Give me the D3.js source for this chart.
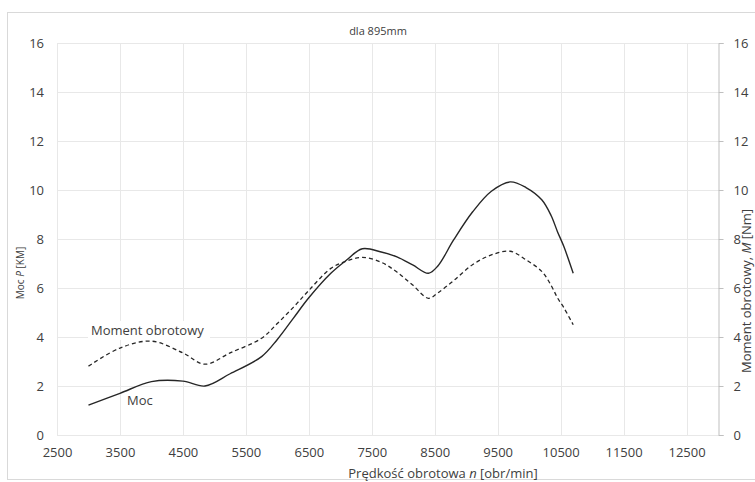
<!DOCTYPE html>
<html>
<head>
<meta charset="utf-8">
<script src="https://cdn.jsdelivr.net/npm/d3@7/dist/d3.min.js"></script>
<style>
  body { margin: 0; background: #fff; }
  svg text { font-family: "Open Sans", sans-serif; fill: #404040; }
</style>
</head>
<body>
<div id="chart"></div>
<script>
var width = 755, height = 482;
var margin = {top: 43, right: 37, bottom: 47, left: 57};

// data
var rpm = [3000, 3500, 4000, 4500, 4850, 5250, 5750, 6000, 6250, 6500, 6850, 7100, 7350,
  7650, 7900, 8150, 8400, 8550, 8800, 9100, 9400, 9700, 9950, 10200, 10350, 10450, 10550, 10700];
var moc = [1.22, 1.7, 2.18, 2.2, 2.0, 2.5, 3.2, 3.9, 4.75, 5.6, 6.6, 7.14, 7.6,
  7.47, 7.27, 6.94, 6.6, 6.9, 7.96, 9.1, 9.95, 10.33, 10.1, 9.6, 8.95, 8.3, 7.7, 6.6];
var moment = [2.81, 3.55, 3.83, 3.35, 2.89, 3.35, 3.95, 4.55, 5.2, 5.9, 6.8, 7.1, 7.25,
  7.05, 6.65, 6.12, 5.58, 5.8, 6.3, 6.95, 7.35, 7.5, 7.15, 6.68, 6.1, 5.6, 5.2, 4.5];
var xTicks = [2500, 3500, 4500, 5500, 6500, 7500, 8500, 9500, 10500, 11500, 12500];
var yTicks = [0, 2, 4, 6, 8, 10, 12, 14, 16];

var svg = d3.select("#chart")
  .append("svg")
  .attr("width", width)
  .attr("height", height);

// chart frame
svg.append("rect")
  .attr("x", 7.5).attr("y", 12.5)
  .attr("width", 770).attr("height", 467)
  .attr("fill", "none")
  .attr("stroke", "#d9d9d9");

var xScale = d3.scaleLinear()
  .domain([2500, 13000])
  .range([margin.left, width - margin.right]);

var yLeft = d3.scaleLinear()
  .domain([0, 16])
  .range([height - margin.bottom, margin.top]);

var yRight = d3.scaleLinear()
  .domain([0, 16])
  .range([height - margin.bottom, margin.top]);

// grid
svg.append("g")
  .attr("class", "grid")
  .selectAll("line.v")
  .data(xTicks)
  .enter()
  .append("line")
  .attr("x1", d => Math.round(xScale(d)) + 0.5)
  .attr("x2", d => Math.round(xScale(d)) + 0.5)
  .attr("y1", margin.top)
  .attr("y2", height - margin.bottom)
  .attr("stroke", "#e8e8e8");

svg.append("g")
  .attr("class", "grid")
  .selectAll("line.h")
  .data(yTicks)
  .enter()
  .append("line")
  .attr("x1", margin.left)
  .attr("x2", width - margin.right)
  .attr("y1", d => Math.round(yLeft(d)) + 0.5)
  .attr("y2", d => Math.round(yLeft(d)) + 0.5)
  .attr("stroke", "#e8e8e8");

// left axis (labels only)
var yAxisL = d3.axisLeft(yLeft).tickValues(yTicks).tickSize(0).tickPadding(13);
svg.append("g")
  .attr("transform", `translate(${margin.left},0)`)
  .call(yAxisL)
  .call(g => g.select(".domain").remove())
  .selectAll("text")
  .attr("font-size", "13px")
  .style("font-family", "Open Sans")
  .attr("fill", "#404040");

// right axis
var yAxisR = d3.axisRight(yRight).tickValues(yTicks).tickSize(5).tickPadding(10);
var gR = svg.append("g")
  .attr("transform", `translate(${Math.round(width - margin.right) + 0.5},0)`)
  .call(yAxisR);
gR.select(".domain").attr("stroke", "#bfbfbf");
gR.selectAll(".tick line").attr("stroke", "#bfbfbf");
gR.selectAll("text")
  .attr("font-size", "13px")
  .style("font-family", "Open Sans")
  .attr("fill", "#404040");

// x axis (labels only)
var xAxis = d3.axisBottom(xScale).tickValues(xTicks).tickSize(0).tickPadding(13).tickFormat(d3.format("d"));
svg.append("g")
  .attr("transform", `translate(0,${height - margin.bottom})`)
  .call(xAxis)
  .call(g => g.select(".domain").remove())
  .selectAll("text")
  .attr("font-size", "13px")
  .style("font-family", "Open Sans")
  .attr("fill", "#404040");

// lines
var points = rpm.map((r, i) => ({rpm: r, moc: moc[i], moment: moment[i]}));

var lineMoc = d3.line()
  .x(d => xScale(d.rpm))
  .y(d => yLeft(d.moc))
  .curve(d3.curveCatmullRom.alpha(0.5));

var lineMoment = d3.line()
  .x(d => xScale(d.rpm))
  .y(d => yRight(d.moment))
  .curve(d3.curveCatmullRom.alpha(0.5));

svg.append("path")
  .datum(points)
  .attr("d", lineMoment)
  .attr("fill", "none")
  .attr("stroke", "#262626")
  .attr("stroke-width", 1.3)
  .attr("stroke-dasharray", "4,3");

svg.append("path")
  .datum(points)
  .attr("d", lineMoc)
  .attr("fill", "none")
  .attr("stroke", "#262626")
  .attr("stroke-width", 1.4);

// series labels
svg.append("rect")
  .attr("x", 88).attr("y", 321)
  .attr("width", 122).attr("height", 19)
  .attr("fill", "#fff");
svg.append("text")
  .attr("x", 91).attr("y", 335)
  .attr("font-size", "13px")
  .text("Moment obrotowy");
svg.append("text")
  .attr("x", 127).attr("y", 405)
  .attr("font-size", "13px")
  .text("Moc");

// titles
svg.append("text")
  .attr("x", 378).attr("y", 35)
  .attr("text-anchor", "middle")
  .attr("font-size", "11px")
  .text("dla 895mm");

var xt = svg.append("text")
  .attr("x", 443).attr("y", 478)
  .attr("text-anchor", "middle")
  .attr("font-size", "13px");
xt.append("tspan").text("Prędkość obrotowa ");
xt.append("tspan").attr("font-style", "italic").text("n");
xt.append("tspan").text(" [obr/min]");

var yl = svg.append("text")
  .attr("transform", "translate(24,273) rotate(-90)")
  .attr("text-anchor", "middle")
  .attr("font-size", "10px");
yl.append("tspan").text("Moc ");
yl.append("tspan").attr("font-style", "italic").text("P");
yl.append("tspan").text(" [KM]");

var yr = svg.append("text")
  .attr("transform", "translate(751,291) rotate(-90)")
  .attr("text-anchor", "middle")
  .attr("font-size", "13px");
yr.append("tspan").text("Moment obrotowy, ");
yr.append("tspan").attr("font-style", "italic").text("M");
yr.append("tspan").text(" [Nm]");
</script>
</body>
</html>
